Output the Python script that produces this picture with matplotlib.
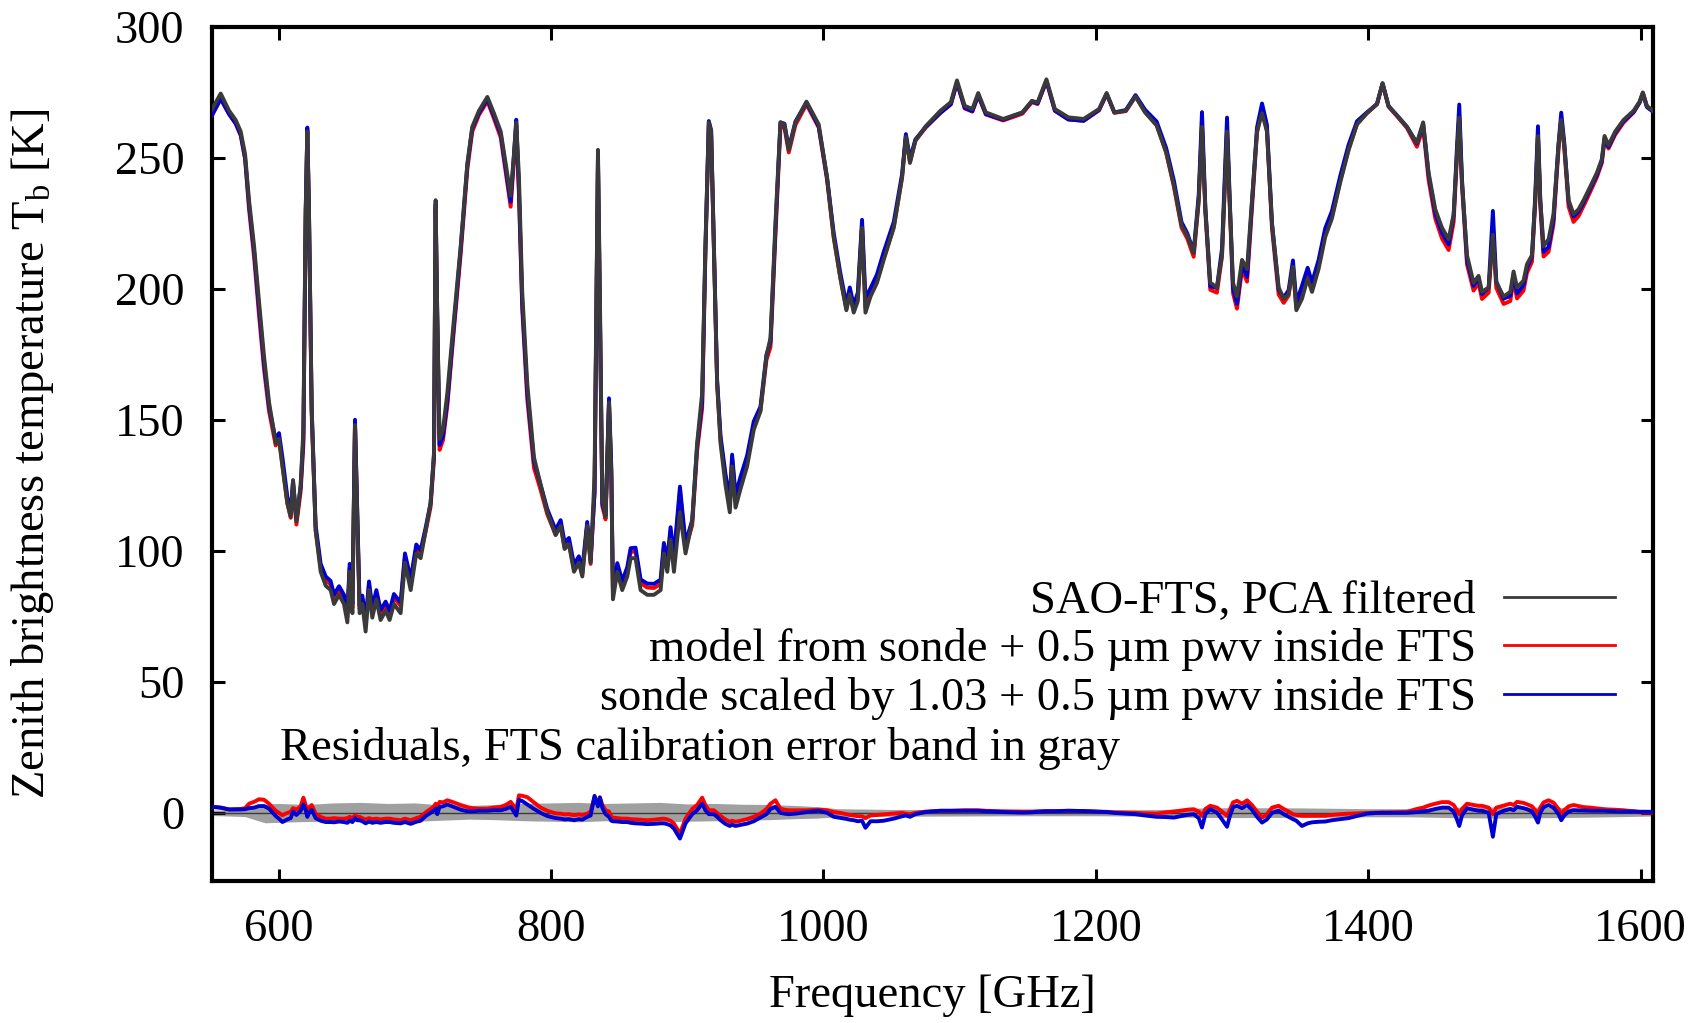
import numpy as np
import matplotlib
matplotlib.use("Agg")
import matplotlib.pyplot as plt

plt.rcParams["font.family"] = ["Liberation Serif", "DejaVu Serif"]
plt.rcParams["mathtext.fontset"] = "custom"
plt.rcParams["mathtext.rm"] = "Liberation Serif"
plt.rcParams["mathtext.it"] = "Liberation Serif:italic"

# spectrum: frequency [GHz], FTS Tb [K],
# residuals (FTS - model) for red and blue models [K]
freq = [551, 557.4, 563.5, 568.4, 572.1, 575.3, 578.2, 581.9, 585.5, 589.2,
        592.9, 597.8, 600.2, 602.7, 606.3, 608.8, 610.5, 613, 616.1, 618.1,
        619.8, 621, 622.2, 624.2, 627.1, 630.8, 634.5, 638.1, 640.6, 644.3,
        647.9, 650.4, 652.1, 654.1, 656, 657.7, 659.4, 661.4, 663.8, 666.3,
        668.7, 671.7, 674.8, 678.5, 681.4, 684.6, 689.5, 692.7, 696.9, 701,
        704.2, 707.9, 711.5, 714, 715.2, 716.4, 718.1, 720.6, 723.8, 727.4,
        733.6, 738.5, 742.1, 747, 753.2, 758, 763, 766.6, 770.3, 772.7,
        774.4, 776.4, 778.8, 782.5, 787.4, 792.3, 797.2, 803.3, 807, 809.9,
        813.1, 816.8, 820.4, 822.9, 826.5, 829, 831.9, 834.4, 835.8, 837.6,
        840, 842.5, 844.2, 845.4, 848.6, 852.2, 855.9, 858.4, 862, 865.7,
        870.6, 875.5, 880.4, 882.8, 885.3, 887.7, 890.2, 894.6, 898.7, 903.6,
        907.2, 910.9, 913.3, 915.8, 917.5, 919.5, 921.9, 924.4, 928, 931.2,
        932.9, 935.4, 939, 943.9, 948.8, 953.7, 958.1, 961.1, 964.7, 968.4,
        971.3, 974.5, 979.4, 987.5, 996.5, 1002.6, 1007.5, 1012.4, 1016.8, 1019.3,
        1022.2, 1025.2, 1028.3, 1030.8, 1034.5, 1039.3, 1044.2, 1051.6, 1057.7, 1060.5,
        1063.5, 1067.5, 1075, 1085.8, 1093.5, 1098, 1103.7, 1109.3, 1113.6, 1119.2,
        1131.9, 1146, 1153, 1157.2, 1163.7, 1169.9, 1179.8, 1191, 1202.3, 1207.9,
        1213.6, 1222, 1229.1, 1236.1, 1244.6, 1251.6, 1257.3, 1262.9, 1267.1, 1271.8,
        1275.5, 1277.9, 1280.4, 1284, 1288.9, 1292.6, 1296.3, 1298.2, 1300.7, 1303.6,
        1307.3, 1311, 1314.6, 1318.3, 1322, 1325.6, 1329.3, 1334.2, 1337.9, 1341.5,
        1344.7, 1347.2, 1351.3, 1355.5, 1358.7, 1363.5, 1368.4, 1373.3, 1379.5, 1385.6,
        1391.7, 1399, 1406.4, 1410.5, 1414.9, 1421, 1428.4, 1435.7, 1440.3, 1444.3,
        1449.2, 1454.1, 1459, 1462.7, 1465.1, 1466.8, 1468.8, 1472.5, 1477.3, 1481,
        1483.5, 1488.4, 1491.5, 1494, 1499.4, 1504.3, 1506.7, 1509.2, 1514, 1516.5,
        1520.2, 1522.6, 1524.6, 1526.3, 1528.7, 1532.4, 1536, 1539.7, 1541.7, 1543.9,
        1547.1, 1550.7, 1554.4, 1558.1, 1563, 1567.9, 1571.5, 1573.5, 1576.4, 1581.3,
        1587.4, 1594.8, 1599.2, 1601.6, 1604.6, 1609]

fts_tb = [268.5, 274.5, 268, 264.4, 260, 251.3, 233.8, 216.3, 195.3, 174.3,
          156.7, 141, 142.7, 132.2, 118.2, 113, 127, 111.2, 125.2, 146.2,
          230.3, 260, 230.3, 155, 107.7, 92, 86.7, 85, 79.7, 83.2,
          79.7, 72.7, 92, 76.2, 148, 111.2, 76.2, 79.7, 69.2, 85,
          74.5, 81.5, 73.6, 77.1, 73.6, 79.7, 76.2, 95.5, 85, 99,
          97.2, 107.7, 118.2, 137.5, 233.8, 190, 142.7, 146.2, 160.2, 181.3,
          216.3, 247.8, 261.8, 267.9, 273.2, 267, 260, 247.8, 235.5, 251.3,
          263.5, 242.5, 198.8, 163.8, 135.7, 125.2, 114.7, 106, 109.5, 100.7,
          102.5, 92, 95.5, 90.2, 109.5, 95.5, 128.7, 253, 198.8, 120,
          113, 156.7, 128.7, 81.5, 92, 85, 90.2, 97.2, 97.2, 85,
          83.2, 83.2, 85, 99, 92, 104.2, 92, 114.7, 99, 111.2,
          141, 160.2, 216.3, 263.5, 260, 216.3, 163.8, 141, 125.2, 114.7,
          132.2, 116.5, 123.5, 132.2, 146.2, 153.2, 174.3, 181.3, 225, 263.5,
          262.7, 253, 263.5, 271.4, 262.7, 242.5, 219.8, 204, 191.8, 197.9,
          190.9, 195.3, 223.3, 190.9, 197, 202.3, 211, 223.3, 242.5, 258,
          248, 256.5, 262, 267.9, 271.2, 279.5, 269.8, 268.6, 274.7, 267.3,
          264.8, 267.3, 271.7, 271.1, 279.9, 268.6, 265.4, 264.8, 268.6, 274.7,
          267.3, 267.9, 273.4, 267.3, 262.3, 252.1, 239.4, 224.2, 220.4, 213.6,
          233.8, 261.8, 230.3, 202.3, 200.5, 212.8, 260, 233.8, 202.3, 197,
          211, 207.5, 233.8, 260, 267, 260, 225, 200.5, 196.1, 197.9,
          208.4, 191.8, 196.1, 204, 198.8, 207.5, 219.8, 226.8, 240.8, 253,
          262.7, 267, 270.5, 278.4, 269.7, 266.2, 261.8, 255.7, 263.5, 244.3,
          230.3, 223.3, 218.9, 228.5, 251.3, 265.3, 240.8, 212.8, 202.3, 204.9,
          198.8, 200.5, 220.6, 202.3, 197, 198.8, 206.6, 200.5, 203.1, 209.3,
          212.8, 233.8, 258.3, 233.8, 216.3, 218.9, 228.5, 254.8, 264.4, 254.8,
          233.8, 228.5, 230.3, 233.8, 239, 244.3, 249.5, 258.3, 254.8, 260,
          264.4, 267.9, 271.4, 274.9, 269.7, 268]

red_res = [2.3, 2.0, 1.3, 1.4, 1.5, 1.8, 3.5, 4.2, 5.2, 5.0,
           3.5, 0.8, 0, -0.9, 0, 0.4, 1.8, 1.2, 2.5, 5.8,
           3.0, -0.3, 2.0, 3.0, -0.3, -1.5, -2.2, -2.2, -2.0, -2.2,
           -2.2, -2.0, -1.5, -2.0, -1.0, -1.5, -1.5, -2.0, -2.5, -2.0,
           -2.4, -2.2, -2.5, -2.2, -2.2, -2.5, -2.8, -2.2, -2.8, -2.0,
           -1.5, 0.2, 1.5, 2.5, 3.5, 2.0, 4.2, 4.0, 4.8, 4.2,
           3.0, 2.2, 1.8, 1.6, 1.6, 2.0, 2.3, 3.0, 4.2, 2.5,
           1.0, 6.7, 6.5, 6.0, 4.0, 2.0, 0.8, -0.2, -0.3, -0.6,
           -0.5, -0.9, -0.6, -0.8, -0.3, 0.5, 6.0, 3.0, 6.0, 3.0,
           1.0, 0.5, -1.5, -1.8, -2.0, -2.2, -2.2, -2.4, -2.5, -2.6,
           -2.8, -2.6, -2.3, -2.2, -2.5, -3.0, -4.1, -7.9, -2.2, 1.5,
           3.0, 5.8, 3.0, 1.0, 1.0, 1.0, 0, -1.2, -2.5, -3.4,
           -3.0, -3.4, -3.0, -2.4, -1.5, -0.3, 1.5, 3.5, 4.8, 1.6,
           1.2, 1.0, 1.0, 1.0, 1.2, 1.0, 0.3, 0, -0.5, -0.8,
           -1.0, -1.3, -1.3, -2.0, -1.0, -0.8, -0.6, -0.3, 0, -0.3,
           -0.5, 0, 0.5, 0.8, 0.8, 0.9, 1.0, 1.0, 1.0, 0.8,
           0.6, 0.5, 0.5, 0.6, 0.7, 0.7, 0.8, 0.7, 0.5, 0.4,
           0.2, 0.1, 0, -0.2, -0.3, 0.2, 0.5, 0.9, 1.2, 1.4,
           0.5, -1.1, 1.5, 2.7, 2.0, 0.5, -1.1, 1.0, 4.0, 4.6,
           3.5, 4.8, 3.0, 0.5, -1.8, -0.5, 2.0, 2.7, 1.5, 0.5,
           -0.5, -0.8, -1.1, -1.1, -1.1, -1.1, -1.1, -0.8, -0.5, -0.3,
           -0.2, 0, 0.1, 0.2, 0.2, 0.3, 0.4, 1.5, 2.0, 2.8,
           3.5, 4.1, 4.1, 3.0, 1.0, -0.5, 1.5, 3.5, 3.0, 2.7,
           2.7, 2.0, -0.5, 2.0, 2.8, 3.5, 3.0, 4.2, 3.8, 3.3,
           2.5, 1.0, -0.5, 2.0, 4.0, 4.8, 3.9, 1.5, -0.5, 1.0,
           2.5, 3.0, 2.6, 2.2, 2.0, 1.7, 1.5, 1.4, 1.3, 1.2,
           1.0, 0.6, 0.3, 0.1, 0.1, 0.1]

blue_res = [2.3, 2.0, 1.3, 1.3, 1.3, 1.4, 1.8, 2.0, 2.6, 2.6,
            1.6, -1.2, -2.2, -3.5, -2.5, -2.0, 0.5, -0.8, 0.8, 3.2,
            1.0, -1.5, 0, 1.2, -2.0, -3.0, -3.5, -3.5, -3.6, -3.3,
            -3.5, -3.8, -3.0, -3.5, -2.0, -2.8, -2.8, -3.2, -4.0, -3.3,
            -3.8, -3.5, -3.8, -3.5, -3.5, -3.8, -4.0, -3.5, -4.2, -3.4,
            -3.0, -1.2, 0, 1.0, 1.6, -0.5, 2.3, 2.5, 3.2, 2.5,
            1.2, 0.6, 0.6, 0.8, 0.8, 1.0, 1.0, 1.5, 2.3, 0.5,
            -1.0, 5.0, 4.5, 3.2, 1.5, 0, -1.2, -2.0, -2.2, -2.5,
            -2.4, -2.8, -2.4, -2.6, -1.5, -1.0, 6.5, 2.5, 5.8, 2.0,
            -0.5, -1.5, -3.0, -3.2, -3.3, -3.5, -3.5, -3.8, -4.0, -4.1,
            -4.3, -4.2, -4.0, -4.0, -4.3, -4.8, -6.0, -9.8, -4.0, -0.5,
            1.0, 3.5, 1.0, -0.5, -0.5, -0.5, -1.5, -2.8, -4.2, -5.0,
            -4.5, -5.0, -4.6, -4.1, -3.2, -1.8, -0.5, 1.5, 2.3, 0,
            -0.3, -0.5, -0.3, 0.3, 0.8, 0, -1.5, -1.9, -2.3, -2.6,
            -2.8, -3.2, -3.0, -5.7, -3.2, -3.2, -3.0, -2.2, -1.3, -1.0,
            -1.5, -0.5, 0.3, 0.8, 0.8, 0.8, 0.8, 0.8, 0.8, 0.6,
            0.3, 0.1, 0.2, 0.4, 0.6, 0.6, 0.8, 0.7, 0.4, 0.3,
            0, -0.3, -0.5, -1.0, -1.5, -1.6, -1.8, -1.2, -0.8, -0.5,
            -2.0, -5.6, -0.5, 1.4, 0.1, -2.5, -5.3, -1.5, 2.2, 2.7,
            1.8, 3.0, 1.2, -1.5, -3.7, -2.5, 0, 0.8, -0.5, -1.5,
            -2.4, -3.0, -5.0, -4.0, -3.6, -3.4, -3.3, -2.8, -2.4, -2.0,
            -1.2, -0.3, 0, 0, 0, 0, 0, 0.3, 0.6, 0.8,
            1.5, 2.0, 2.0, 0.5, -2.5, -5.0, -1.0, 1.8, 1.2, 0.8,
            0.8, 0, -9.1, -0.5, 0.8, 1.5, 1.0, 2.3, 1.8, 1.4,
            0.5, -1.5, -3.7, 0, 2.2, 3.0, 2.0, -0.5, -2.8, -1.0,
            0.5, 1.0, 0.9, 0.9, 0.8, 0.8, 0.8, 0.8, 0.7, 0.6,
            0.5, 0.5, 0.4, 0.4, 0.4, 0.4]

# FTS calibration error band (gray)
band_freq = [551, 575, 585, 590, 600, 620, 640, 660, 680, 700,
             720, 740, 760, 780, 800, 820, 840, 860, 880, 900,
             920, 940, 960, 980, 995, 1010, 1050, 1100, 1150, 1200,
             1250, 1270, 1300, 1350, 1400, 1430, 1460, 1500, 1540, 1580, 1609]
band_hi = [1.0, 1.4, 2.6, 3.4, 3.6, 3.2, 3.8, 4.0, 3.6, 3.8,
           3.0, 2.8, 3.2, 3.6, 3.8, 4.0, 3.6, 3.8, 4.0, 3.4,
           3.6, 3.3, 3.2, 2.8, 2.4, 1.6, 1.3, 1.2, 1.1, 1.1,
           1.3, 1.8, 2.0, 1.9, 1.6, 1.6, 2.1, 2.3, 2.1, 1.6, 1.3]
band_lo = [-1.0, -1.4, -3.0, -3.8, -3.6, -3.3, -3.2, -3.4, -3.0, -3.2,
           -2.8, -2.4, -2.6, -3.0, -3.2, -3.4, -3.0, -3.2, -3.4, -3.2,
           -3.0, -2.8, -2.6, -2.2, -2.0, -1.5, -1.3, -1.2, -1.1, -1.1,
           -1.3, -1.7, -1.8, -1.7, -1.5, -1.5, -1.8, -2.0, -1.8, -1.5, -1.2]

labels = ["SAO-FTS, PCA filtered",
          "model from sonde + 0.5 \u00b5m pwv inside FTS",
          "sonde scaled by 1.03 + 0.5 \u00b5m pwv inside FTS"]

fts = np.array(fts_tb)
red_model = fts - np.array(red_res)
blue_model = fts - np.array(blue_res)

fig = plt.figure(figsize=(17, 10.23), dpi=100)
ax = fig.add_axes([0.1247, 0.1388, 0.8476, 0.8351])

c_fts = "#3a3a3a"
c_red = "#ff0000"
c_blue = "#0000d0"
fs = 33.5

# residual panel near zero
ax.fill_between(band_freq, band_lo, band_hi, color="#a0a0a0", lw=0, zorder=1)
ax.axhline(0, color="#3a3a3a", lw=1.0, zorder=2)
ax.plot(freq, red_res, color=c_red, lw=2.8, zorder=3)
ax.plot(freq, blue_res, color=c_blue, lw=2.8, zorder=4)

# spectra
ax.plot(freq, red_model, color=c_red, lw=2.8, zorder=5)
ax.plot(freq, blue_model, color=c_blue, lw=2.8, zorder=6)
ax.plot(freq, fts, color=c_fts, lw=2.8, zorder=7)

# legend, gnuplot style (text first, sample on the right)
h1, = ax.plot([], [], color=c_fts, lw=2)
h2, = ax.plot([], [], color=c_red, lw=2)
h3, = ax.plot([], [], color=c_blue, lw=2)
ax.legend([h1, h2, h3], labels, loc="upper right", bbox_to_anchor=(0.974, 0.352),
          frameon=False, markerfirst=False, fontsize=fs, handlelength=2.4,
          handletextpad=0.6, labelspacing=0.12, borderpad=0, borderaxespad=0)

ax.text(601, 24.5, "Residuals, FTS calibration error band in gray",
        fontsize=fs, ha="left", va="center")

ax.set_xlim(551, 1609)
ax.set_ylim(-26, 300)
ax.set_xticks(range(600, 1601, 200))
ax.set_yticks(range(0, 301, 50))
ax.tick_params(direction="in", top=True, right=True, length=9, width=2.2,
               labelsize=fs)
ax.tick_params(axis="x", pad=20)
ax.tick_params(axis="y", pad=20)
for s in ax.spines.values():
    s.set_linewidth(3)

ax.set_xlabel("Frequency [GHz]", fontsize=fs, labelpad=17)
ax.set_ylabel("Zenith brightness temperature T$_\\mathrm{b}$ [K]", fontsize=fs,
              labelpad=42)

fig.savefig("out.png", dpi=100)
